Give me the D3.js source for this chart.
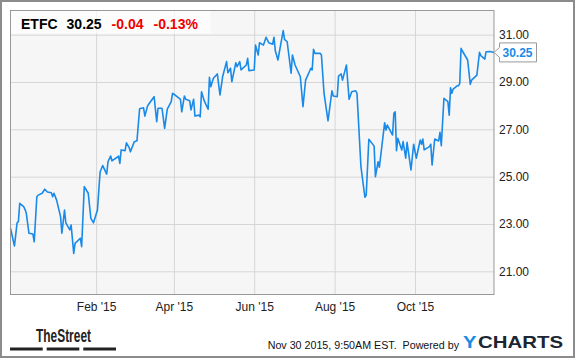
<!DOCTYPE html>
<html>
<head>
<meta charset="utf-8">
<script src="https://cdn.jsdelivr.net/npm/d3@7"></script>
<style>
  html, body { margin: 0; padding: 0; background: #fff; }
  svg { display: block; font-family: "Liberation Sans", Arial, sans-serif; }
</style>
</head>
<body>
<div class="container"></div>
<script>
'use strict'

const ticker = 'ETFC'
const lastPrice = '30.25'
const change = '-0.04'
const changePct = '-0.13%'
const stamp = 'Nov 30 2015, 9:50AM EST.  Powered by'

const dates = [
  '2014-11-28', '2014-12-01', '2014-12-03', '2014-12-04', '2014-12-05', '2014-12-08', '2014-12-09', '2014-12-10',
  '2014-12-12', '2014-12-15', '2014-12-16', '2014-12-18', '2014-12-19', '2014-12-22', '2014-12-24', '2014-12-26',
  '2014-12-29', '2014-12-30', '2014-12-31', '2015-01-02', '2015-01-05', '2015-01-06', '2015-01-08', '2015-01-09',
  '2015-01-12', '2015-01-13', '2015-01-15', '2015-01-16', '2015-01-20', '2015-01-21', '2015-01-23', '2015-01-26',
  '2015-01-28', '2015-01-30', '2015-02-02', '2015-02-04', '2015-02-06', '2015-02-09', '2015-02-10', '2015-02-12',
  '2015-02-13', '2015-02-17', '2015-02-18', '2015-02-19', '2015-02-20', '2015-02-23', '2015-02-24', '2015-02-26',
  '2015-02-27', '2015-03-02', '2015-03-04', '2015-03-06', '2015-03-09', '2015-03-10', '2015-03-12', '2015-03-13',
  '2015-03-17', '2015-03-19', '2015-03-20', '2015-03-23', '2015-03-25', '2015-03-27', '2015-03-30', '2015-03-31',
  '2015-04-02', '2015-04-06', '2015-04-07', '2015-04-09', '2015-04-10', '2015-04-13', '2015-04-14', '2015-04-16',
  '2015-04-17', '2015-04-20', '2015-04-21', '2015-04-22', '2015-04-24', '2015-04-27', '2015-04-28', '2015-04-29',
  '2015-05-01', '2015-05-04', '2015-05-06', '2015-05-08', '2015-05-11', '2015-05-12', '2015-05-14', '2015-05-15',
  '2015-05-18', '2015-05-19', '2015-05-21', '2015-05-22', '2015-05-26', '2015-05-27', '2015-05-28', '2015-06-01',
  '2015-06-02', '2015-06-04', '2015-06-05', '2015-06-08', '2015-06-10', '2015-06-12', '2015-06-15', '2015-06-16',
  '2015-06-17', '2015-06-19', '2015-06-23', '2015-06-24', '2015-06-26', '2015-06-29', '2015-06-30', '2015-07-02',
  '2015-07-06', '2015-07-08', '2015-07-10', '2015-07-14', '2015-07-15', '2015-07-16', '2015-07-17', '2015-07-21',
  '2015-07-22', '2015-07-24', '2015-07-27', '2015-07-30', '2015-07-31', '2015-08-03', '2015-08-04', '2015-08-06',
  '2015-08-07', '2015-08-10', '2015-08-12', '2015-08-14', '2015-08-17', '2015-08-18', '2015-08-21', '2015-08-24',
  '2015-08-25', '2015-08-27', '2015-08-31', '2015-09-01', '2015-09-03', '2015-09-04', '2015-09-08', '2015-09-09',
  '2015-09-10', '2015-09-14', '2015-09-15', '2015-09-16', '2015-09-17', '2015-09-18', '2015-09-21', '2015-09-22',
  '2015-09-24', '2015-09-25', '2015-09-28', '2015-09-30', '2015-10-02', '2015-10-05', '2015-10-06', '2015-10-07',
  '2015-10-08', '2015-10-12', '2015-10-13', '2015-10-14', '2015-10-16', '2015-10-19', '2015-10-20', '2015-10-21',
  '2015-10-23', '2015-10-26', '2015-10-27', '2015-10-28', '2015-10-29', '2015-10-30', '2015-11-02', '2015-11-03',
  '2015-11-04', '2015-11-05', '2015-11-06', '2015-11-10', '2015-11-12', '2015-11-13', '2015-11-17', '2015-11-19',
  '2015-11-20', '2015-11-23', '2015-11-24', '2015-11-27', '2015-11-30'
]

const closes = [
  22.82, 22.07, 23.05, 23.10, 23.87, 23.73, 23.62, 23.45,
  22.61, 22.58, 22.25, 24.15, 24.22, 24.30, 24.47, 24.35,
  24.32, 24.15, 24.30, 24.01, 23.31, 22.61, 23.59, 23.05,
  22.75, 22.96, 21.76, 22.18, 22.40, 22.04, 24.58, 24.30,
  23.24, 23.05, 23.59, 25.20, 25.47, 25.11, 25.63, 25.87,
  25.67, 25.82, 25.87, 25.56, 26.13, 26.10, 26.43, 26.24,
  26.05, 26.48, 26.52, 27.87, 27.91, 27.56, 27.98, 28.07,
  28.38, 27.32, 27.89, 27.89, 27.04, 27.85, 28.17, 28.52,
  28.45, 28.27, 27.74, 28.41, 28.27, 28.21, 27.82, 28.27,
  27.56, 27.60, 27.53, 28.59, 28.21, 27.85, 29.20, 28.80,
  29.16, 29.34, 28.45, 29.22, 29.86, 29.39, 29.58, 29.01,
  29.81, 29.65, 29.86, 29.51, 29.72, 30.00, 29.48, 29.51,
  30.56, 30.14, 30.66, 30.56, 30.89, 30.66, 30.60, 30.89,
  30.32, 29.93, 31.17, 30.80, 30.70, 29.37, 30.14, 29.72,
  29.22, 27.96, 29.08, 29.58, 29.51, 30.38, 30.21, 30.21,
  30.14, 28.52, 27.36, 28.63, 28.41, 28.38, 29.25, 29.34,
  29.08, 29.72, 28.27, 28.59, 28.63, 28.52, 25.42, 24.13,
  24.22, 26.58, 26.29, 25.00, 25.63, 25.40, 27.28, 26.97,
  27.18, 26.76, 27.68, 27.74, 26.10, 26.62, 26.13, 26.48,
  25.78, 26.45, 25.28, 26.37, 25.78, 26.55, 26.37, 26.59,
  26.13, 26.27, 26.37, 25.49, 26.59, 26.51, 26.87, 26.31,
  28.31, 28.17, 27.60, 28.76, 28.52, 28.70, 28.84, 28.84,
  28.94, 30.42, 30.31, 29.93, 28.90, 29.08, 29.29, 30.25,
  30.11, 29.97, 30.28, 30.29, 30.25
]

const xTicks = ['2015-02-01', '2015-04-01', '2015-06-01', '2015-08-01', '2015-10-01']
const yTicks = [21, 23, 25, 27, 29, 31]

const W = 575
const H = 358
const plot = { left: 10.5, top: 10.5, right: 494, bottom: 294.5 }

const parse = d3.utcParse('%Y-%m-%d')
const points = dates.map((d, i) => ({ date: parse(d), close: closes[i] }))

const svg = d3.select('.container').append('svg')
  .attr('width', W)
  .attr('height', H)

// outer frame
svg.append('rect')
  .attr('x', 1).attr('y', 1)
  .attr('width', W - 2).attr('height', H - 2)
  .attr('fill', '#fff')
  .attr('stroke', '#8c8c8c')
  .attr('stroke-width', 2)

const x = d3.scaleUtc()
  .domain([parse('2014-11-28'), parse('2015-11-30')])
  .range([plot.left, plot.right])

const y = d3.scaleLinear()
  .domain([20, 32])
  .range([295, 11])

svg.append('rect')
  .attr('x', plot.left).attr('y', plot.top)
  .attr('width', plot.right - plot.left)
  .attr('height', plot.bottom - plot.top)
  .attr('fill', '#f6f6f6')

// grid
const xAxis = d3.axisBottom(x)
  .tickValues(xTicks.map(parse))
  .tickSize(-(plot.bottom - plot.top))
  .tickPadding(8)
  .tickFormat(d3.utcFormat("%b '%y"))

const gX = svg.append('g')
  .attr('transform', `translate(0,${plot.bottom})`)
  .call(xAxis)

const yAxis = d3.axisRight(y)
  .tickValues(yTicks)
  .tickSize(-(plot.right - plot.left))
  .tickPadding(5)
  .tickFormat(d3.format('.2f'))

const gY = svg.append('g')
  .attr('transform', `translate(${plot.right},0)`)
  .call(yAxis)

for (const g of [gX, gY]) {
  g.select('.domain').remove()
  g.selectAll('.tick line').attr('stroke', '#d6d6d6')
  g.selectAll('.tick text')
    .attr('fill', '#222')
    .style('font-size', '12px')
    .style('font-family', '"Liberation Sans", Arial, sans-serif')
}
gX.selectAll('.tick text').attr('dy', '0.71em').attr('y', 8)

// header box
svg.append('rect')
  .attr('x', plot.left).attr('y', plot.top)
  .attr('width', 200).attr('height', 23)
  .attr('fill', '#fff')
  .attr('opacity', 0.65)

const head = svg.append('text')
  .attr('x', 21)
  .attr('y', 28.5)
  .style('font-size', '14px')
  .style('font-weight', 'bold')
head.append('tspan').attr('fill', '#000').text(ticker)
head.append('tspan').attr('dx', 9).attr('fill', '#000').text(lastPrice)
head.append('tspan').attr('dx', 10).attr('fill', '#ee0000').text(change)
head.append('tspan').attr('dx', 10).attr('fill', '#ee0000').text(changePct)

// price line
const line = d3.line()
  .x(d => x(d.date))
  .y(d => y(d.close))

svg.append('path')
  .datum(points)
  .attr('fill', 'none')
  .attr('stroke', '#1a8ae8')
  .attr('stroke-width', 1.6)
  .attr('stroke-linejoin', 'round')
  .attr('d', line)

// plot frame
svg.append('rect')
  .attr('x', plot.left).attr('y', plot.top)
  .attr('width', plot.right - plot.left)
  .attr('height', plot.bottom - plot.top)
  .attr('fill', 'none')
  .attr('stroke', '#999')

// last value flag
const last = points[points.length - 1]
const ly = y(last.close)
const flag = svg.append('g')
flag.append('path')
  .attr('d', `M${plot.right},${ly} L${plot.right + 5.5},${ly - 5} L${plot.right + 5.5},${ly - 9.5} L${plot.right + 42.5},${ly - 9.5} L${plot.right + 42.5},${ly + 9.5} L${plot.right + 5.5},${ly + 9.5} L${plot.right + 5.5},${ly + 5} Z`)
  .attr('fill', '#fff')
  .attr('stroke', '#999')
flag.append('text')
  .attr('x', plot.right + 8.5)
  .attr('y', ly + 4.5)
  .attr('fill', '#1a8ae8')
  .style('font-size', '12px')
  .style('font-weight', 'bold')
  .text(d3.format('.2f')(last.close))

// footer
svg.append('text')
  .attr('x', 36).attr('y', 342)
  .attr('textLength', 55)
  .attr('lengthAdjust', 'spacingAndGlyphs')
  .attr('fill', '#222')
  .style('font-size', '18px')
  .style('font-weight', 'bold')
  .text('TheStreet')

svg.selectAll('.bar')
  .data([[10, 42.7], [46.7, 79.3], [83.3, 116]])
  .enter().append('rect')
  .attr('x', d => d[0]).attr('y', 347.5)
  .attr('width', d => d[1] - d[0]).attr('height', 3)
  .attr('fill', '#222')

svg.append('text')
  .attr('x', 459).attr('y', 349)
  .attr('text-anchor', 'end')
  .attr('fill', '#111')
  .style('font-size', '10.7px')
  .style('white-space', 'pre')
  .text(stamp)

svg.append('text')
  .attr('x', 463).attr('y', 347.5)
  .attr('textLength', 13.5)
  .attr('lengthAdjust', 'spacingAndGlyphs')
  .attr('fill', '#1a8ae8')
  .style('font-size', '17px')
  .style('font-weight', 'bold')
  .text('Y')

svg.append('text')
  .attr('x', 478).attr('y', 347.5)
  .attr('textLength', 85)
  .attr('lengthAdjust', 'spacingAndGlyphs')
  .attr('fill', '#1b2533')
  .style('font-size', '17px')
  .style('font-weight', 'bold')
  .text('CHARTS')
</script>
</body>
</html>
